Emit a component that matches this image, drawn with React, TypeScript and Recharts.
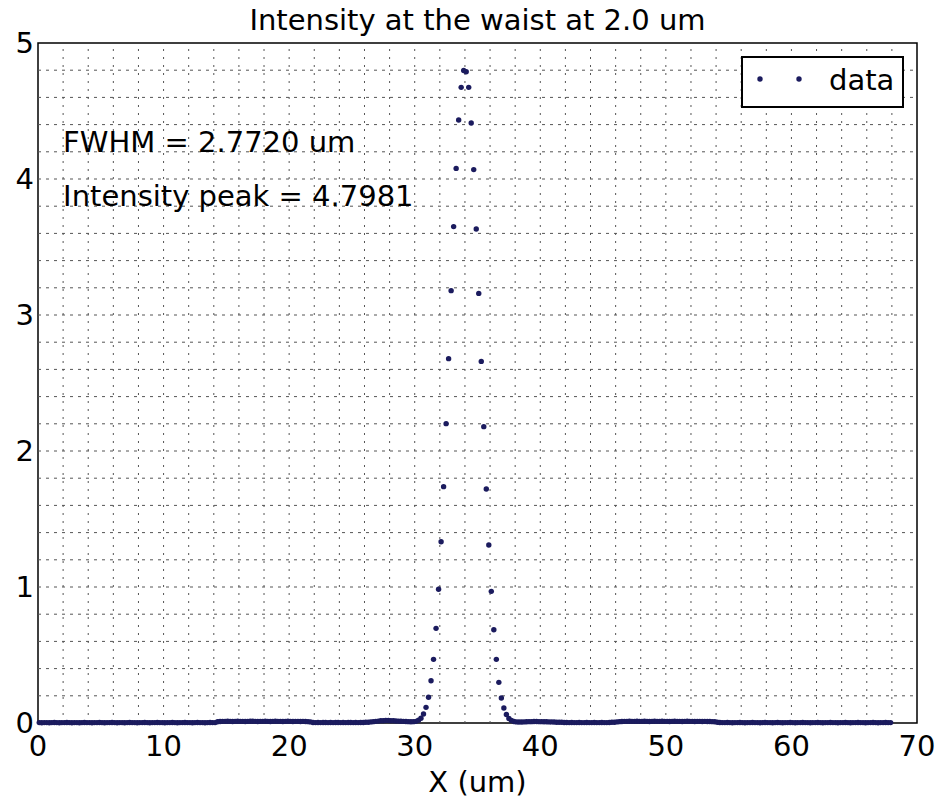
import React from 'react';
import {
  ScatterChart,
  Scatter,
  XAxis,
  YAxis,
  ReferenceLine,
  ReferenceArea,
} from 'recharts';

// Sampling grid of the beam profile (um)
const X_START = 0.1;
const X_STEP = 0.2;

// Intensity samples, left to right, split into regions of the profile
const BASE_LEFT = [
  0.003, 0.002, 0.003, 0.003, 0.002, 0.003, 0.004, 0.003, 0.002, 0.003,
  0.003, 0.004, 0.003, 0.002, 0.003, 0.003, 0.002, 0.003, 0.004, 0.003,
  0.003, 0.002, 0.003, 0.003, 0.004, 0.003, 0.002, 0.003, 0.003, 0.004,
  0.003, 0.002, 0.003, 0.003, 0.002, 0.003, 0.004, 0.003, 0.003, 0.002,
  0.003, 0.003, 0.004, 0.003, 0.002, 0.003, 0.003, 0.004, 0.003, 0.003,
  0.002, 0.003, 0.003, 0.004, 0.003, 0.002, 0.003, 0.003, 0.004, 0.003,
  0.003, 0.002, 0.003, 0.004, 0.003, 0.003, 0.002, 0.003, 0.004, 0.003,
  0.003,
];

const SIDE_LOBE_1 = [
  0.009, 0.011, 0.012, 0.012, 0.013, 0.012, 0.011, 0.012, 0.013, 0.012,
  0.012, 0.011, 0.012, 0.013, 0.013, 0.012, 0.011, 0.012, 0.012, 0.013,
  0.012, 0.011, 0.012, 0.013, 0.012, 0.012, 0.011, 0.012, 0.013, 0.012,
  0.011, 0.012, 0.012, 0.011, 0.012, 0.011, 0.010, 0.008,
];

const GAP_1 = [
  0.004, 0.003, 0.004, 0.003, 0.004, 0.004, 0.003, 0.004, 0.003, 0.004,
  0.004, 0.003, 0.004, 0.003, 0.004, 0.004, 0.003, 0.004, 0.003, 0.004,
  0.004, 0.005, 0.006,
];

const SIDE_LOBE_2 = [
  0.008, 0.010, 0.012, 0.014, 0.016, 0.017, 0.018, 0.018, 0.017, 0.016,
  0.015, 0.014, 0.013, 0.012, 0.011, 0.010, 0.009,
];

const MAIN_PEAK = [
  0.010, 0.012, 0.020, 0.035, 0.066, 0.115, 0.189, 0.311, 0.468, 0.696,
  0.983, 1.333, 1.738, 2.201, 2.679, 3.179, 3.650, 4.078, 4.434, 4.674,
  4.7981, 4.789, 4.674, 4.412, 4.069, 3.632, 3.159, 2.659, 2.179, 1.721,
  1.309, 0.968, 0.686, 0.468, 0.299, 0.184, 0.110, 0.062, 0.033, 0.018,
  0.011, 0.008,
];

const SIDE_LOBE_3 = [
  0.007, 0.007, 0.008, 0.009, 0.010, 0.010, 0.011, 0.011, 0.010, 0.010,
  0.009, 0.009, 0.008, 0.008, 0.007, 0.006, 0.005, 0.005, 0.004, 0.004,
];

const GAP_2 = [
  0.003, 0.004, 0.003, 0.003, 0.004, 0.003, 0.003, 0.004, 0.003, 0.003,
  0.004, 0.003, 0.003, 0.004, 0.003, 0.003, 0.004, 0.005, 0.006, 0.008,
];

const SIDE_LOBE_4 = [
  0.010, 0.011, 0.012, 0.012, 0.013, 0.012, 0.012, 0.013, 0.012, 0.012,
  0.013, 0.012, 0.011, 0.012, 0.013, 0.012, 0.012, 0.013, 0.012, 0.012,
  0.011, 0.012, 0.013, 0.012, 0.012, 0.011, 0.012, 0.013, 0.012, 0.012,
  0.011, 0.012, 0.012, 0.011, 0.012, 0.011, 0.011, 0.010, 0.009,
];

const BASE_RIGHT = [
  0.005, 0.004, 0.003, 0.003, 0.004, 0.003, 0.002, 0.003, 0.003, 0.004,
  0.003, 0.002, 0.003, 0.003, 0.004, 0.003, 0.003, 0.002, 0.003, 0.004,
  0.003, 0.003, 0.002, 0.003, 0.004, 0.003, 0.002, 0.003, 0.003, 0.004,
  0.003, 0.002, 0.003, 0.003, 0.004, 0.003, 0.003, 0.002, 0.003, 0.003,
  0.004, 0.003, 0.002, 0.003, 0.003, 0.004, 0.003, 0.003, 0.002, 0.003,
  0.003, 0.004, 0.003, 0.002, 0.003, 0.003, 0.004, 0.003, 0.003, 0.002,
  0.003, 0.003, 0.004, 0.003, 0.002, 0.003, 0.003, 0.004, 0.003, 0.003,
];

const INTENSITY = [
  ...BASE_LEFT,
  ...SIDE_LOBE_1,
  ...GAP_1,
  ...SIDE_LOBE_2,
  ...MAIN_PEAK,
  ...SIDE_LOBE_3,
  ...GAP_2,
  ...SIDE_LOBE_4,
  ...BASE_RIGHT,
];

const X_TICKS = [0, 10, 20, 30, 40, 50, 60, 70];
const Y_TICKS = [0, 1, 2, 3, 4, 5];

// Minor grid positions
const X_GRID = [
  2, 4, 6, 8, 10, 12, 14, 16, 18, 20, 22, 24, 26, 28, 30, 32, 34,
  36, 38, 40, 42, 44, 46, 48, 50, 52, 54, 56, 58, 60, 62, 64, 66, 68,
];
const Y_GRID = [
  0.2, 0.4, 0.6, 0.8, 1.0, 1.2, 1.4, 1.6, 1.8, 2.0, 2.2, 2.4,
  2.6, 2.8, 3.0, 3.2, 3.4, 3.6, 3.8, 4.0, 4.2, 4.4, 4.6, 4.8,
];

const ANNOTATIONS = [
  { x: 2, y: 4.2, text: 'FWHM = 2.7720 um' },
  { x: 2, y: 3.8, text: 'Intensity peak = 4.7981' },
];

const TITLE = 'Intensity at the waist at 2.0 um';
const X_LABEL = 'X (um)';
const SERIES_NAME = 'data';

const FONT = '"DejaVu Sans", sans-serif';
const FONT_SIZE = 29;
const DOT_COLOR = '#1b1b5e';
const GRID_COLOR = '#555';

const points = INTENSITY.map((y, i) => ({
  x: Number((X_START + i * X_STEP).toFixed(1)),
  y,
}));

const W = 938;
const H = 799;

const Dot = (props: any) => {
  if (props.cx == null || props.cy == null) return null;
  return <circle cx={props.cx} cy={props.cy} r={2.7} fill={DOT_COLOR} />;
};

const Annotation = (props: any) => {
  if (props.cx == null || props.cy == null) return null;
  return (
    <text
      x={props.cx}
      y={props.cy}
      fontFamily={FONT}
      fontSize={FONT_SIZE}
      fill="#000"
      textAnchor="start"
    >
      {props.payload.text}
    </text>
  );
};

export default function App() {
  return (
    <div
      style={{
        position: 'absolute',
        left: 0,
        top: 0,
        width: W,
        height: H,
        background: '#fff',
        overflow: 'hidden',
      }}
    >
      <ScatterChart
        width={W}
        height={H}
        margin={{ top: 43, right: 21, bottom: 46, left: 8 }}
      >
        <XAxis
          type="number"
          dataKey="x"
          domain={[0, 70]}
          ticks={X_TICKS}
          interval={0}
          height={30}
          tickLine={false}
          tickSize={0}
          tickMargin={12}
          axisLine={false}
          tick={{ fill: '#000', fontSize: FONT_SIZE, fontFamily: FONT }}
        />
        <YAxis
          type="number"
          dataKey="y"
          domain={[0, 5]}
          ticks={Y_TICKS}
          interval={0}
          width={30}
          tickLine={false}
          tickSize={0}
          tickMargin={4}
          axisLine={false}
          tick={{ fill: '#000', fontSize: FONT_SIZE, fontFamily: FONT }}
        />
        {X_GRID.map((gx) => (
          <ReferenceLine
            key={`gx-${gx}`}
            x={gx}
            stroke={GRID_COLOR}
            strokeWidth={1}
            strokeDasharray="2 6"
          />
        ))}
        {Y_GRID.map((gy) => (
          <ReferenceLine
            key={`gy-${gy}`}
            y={gy}
            stroke={GRID_COLOR}
            strokeWidth={1}
            strokeDasharray="3 5"
          />
        ))}
        <Scatter
          name={SERIES_NAME}
          data={points}
          shape={Dot}
          isAnimationActive={false}
        />
        <Scatter
          data={ANNOTATIONS}
          shape={Annotation}
          isAnimationActive={false}
        />
        <ReferenceArea
          x1={0}
          x2={70}
          y1={0}
          y2={5}
          fill="none"
          fillOpacity={0}
          stroke="#000"
          strokeWidth={1.5}
        />
      </ScatterChart>
      <svg
        width={W}
        height={H}
        style={{ position: 'absolute', left: 0, top: 0, pointerEvents: 'none' }}
      >
        <text
          x={477.5}
          y={30}
          textAnchor="middle"
          fontFamily={FONT}
          fontSize={FONT_SIZE}
          fill="#000"
        >
          {TITLE}
        </text>
        <text
          x={477.5}
          y={792}
          textAnchor="middle"
          fontFamily={FONT}
          fontSize={FONT_SIZE}
          fill="#000"
        >
          {X_LABEL}
        </text>
        <g>
          <rect
            x={742}
            y={57}
            width={161}
            height={50}
            fill="#fff"
            stroke="#000"
            strokeWidth={2}
          />
          <circle cx={760} cy={79} r={2.7} fill={DOT_COLOR} />
          <circle cx={799} cy={79} r={2.7} fill={DOT_COLOR} />
          <text
            x={829}
            y={90}
            fontFamily={FONT}
            fontSize={FONT_SIZE}
            fill="#000"
          >
            {SERIES_NAME}
          </text>
        </g>
      </svg>
    </div>
  );
}
